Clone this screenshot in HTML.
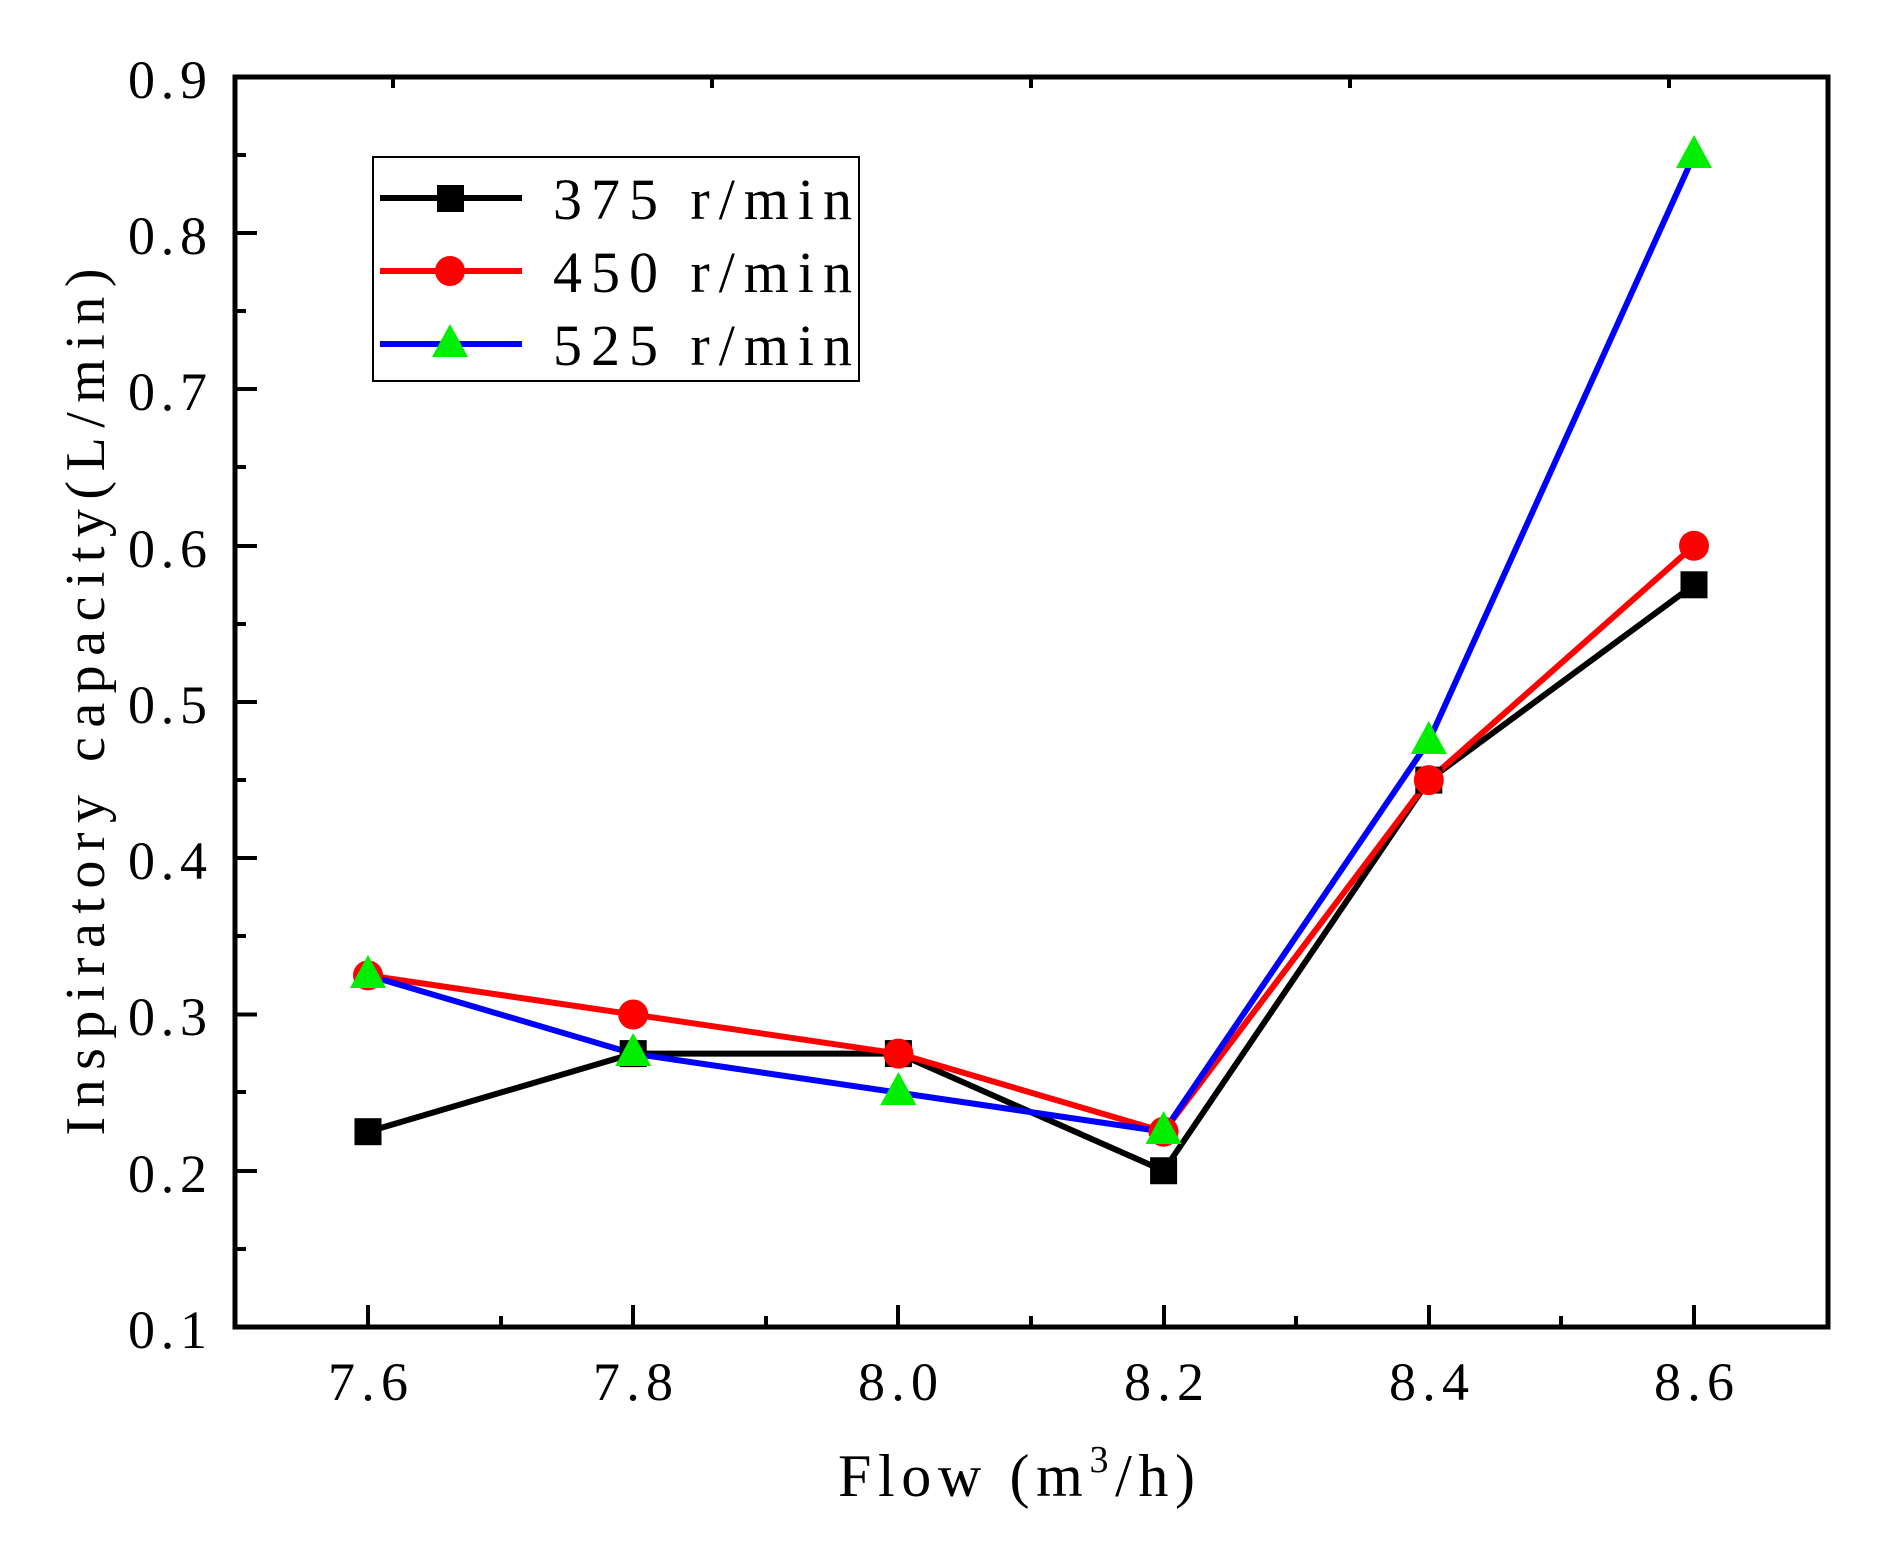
<!DOCTYPE html>
<html><head><meta charset="utf-8"><style>html,body{margin:0;padding:0;background:#fff}</style></head><body>
<svg width="1901" height="1542" viewBox="0 0 1901 1542" xmlns="http://www.w3.org/2000/svg" font-family="Liberation Serif, serif">
<rect width="1901" height="1542" fill="#fff"/>
<g stroke="#000" stroke-width="4">
<path d="M235 1171h22M235 1014.5h22M235 858h22M235 702h22M235 546h22M235 389h22M235 233h22M235 1249h11M235 1092h11M235 936h11M235 780h11M235 624h11M235 467h11M235 311h11M235 155h11"/>
<path d="M368 1327v-22M633 1327v-22M898 1327v-22M1164 1327v-22M1429 1327v-22M1694 1327v-22M501 1327v-11M766 1327v-11M1031 1327v-11M1296 1327v-11M1561 1327v-11"/>
<path d="M393 77v11M712 77v11M1031 77v11M1350 77v11M1669 77v11"/>
</g>
<rect x="235" y="77" width="1593" height="1250" fill="none" stroke="#000" stroke-width="5"/>
<g fill="none" stroke-width="6" stroke-linejoin="round">
<polyline stroke="#000" points="368,1131.7 633.2,1053.6 898.4,1053.6 1163.6,1170.75 1428.8,780.1 1694,584.8"/>
<polyline stroke="#ff0000" points="368,975.4 633.2,1014.5 898.4,1053.6 1163.6,1131.7 1428.8,780.1 1694,545.75"/>
<polyline stroke="#0000ff" points="368,975.4 633.2,1053.6 898.4,1092.6 1163.6,1131.7 1428.8,741.1 1694,155.1"/>
</g>
<g fill="#000">
<rect x="354.5" y="1118.2" width="27" height="27"/><rect x="619.7" y="1040.1" width="27" height="27"/><rect x="884.9" y="1040.1" width="27" height="27"/><rect x="1150.1" y="1157.25" width="27" height="27"/><rect x="1415.3" y="766.6" width="27" height="27"/><rect x="1680.5" y="571.3" width="27" height="27"/>
</g>
<g fill="#ff0000">
<circle cx="368" cy="975.4" r="15"/><circle cx="633.2" cy="1014.5" r="15"/><circle cx="898.4" cy="1053.6" r="15"/><circle cx="1163.6" cy="1131.7" r="15"/><circle cx="1428.8" cy="780.1" r="15"/><circle cx="1694" cy="545.75" r="15"/>
</g>
<g fill="#00ee00">
<polygon points="368,955 350,988 386,988"/><polygon points="633.2,1033 615.2,1066 651.2,1066"/><polygon points="898.4,1072 880.4,1105 916.4,1105"/><polygon points="1163.6,1111 1145.6,1144 1181.6,1144"/><polygon points="1428.8,721 1410.8,754 1446.8,754"/><polygon points="1694,135 1676,168 1712,168"/>
</g>
<g font-size="54" text-anchor="end">
<text x="207" y="98" textLength="79" lengthAdjust="spacing">0.9</text>
<text x="207" y="254" textLength="79" lengthAdjust="spacing">0.8</text>
<text x="207" y="410" textLength="79" lengthAdjust="spacing">0.7</text>
<text x="207" y="567" textLength="79" lengthAdjust="spacing">0.6</text>
<text x="207" y="723" textLength="79" lengthAdjust="spacing">0.5</text>
<text x="207" y="879" textLength="79" lengthAdjust="spacing">0.4</text>
<text x="207" y="1035" textLength="79" lengthAdjust="spacing">0.3</text>
<text x="207" y="1192" textLength="79" lengthAdjust="spacing">0.2</text>
<text x="207" y="1348" textLength="79" lengthAdjust="spacing">0.1</text>
</g>
<g font-size="54" text-anchor="middle">
<text x="368" y="1400" textLength="80" lengthAdjust="spacing">7.6</text>
<text x="633" y="1400" textLength="80" lengthAdjust="spacing">7.8</text>
<text x="898" y="1400" textLength="80" lengthAdjust="spacing">8.0</text>
<text x="1164" y="1400" textLength="80" lengthAdjust="spacing">8.2</text>
<text x="1429" y="1400" textLength="80" lengthAdjust="spacing">8.4</text>
<text x="1694" y="1400" textLength="80" lengthAdjust="spacing">8.6</text>
</g>
<text x="838" y="1496" font-size="60" textLength="357" lengthAdjust="spacing">Flow (m<tspan font-size="38" dy="-24">3</tspan><tspan dy="24">/h)</tspan></text>
<text transform="translate(104,702) rotate(-90)" font-size="56" text-anchor="middle" textLength="867" lengthAdjust="spacing">Inspiratory capacity(L/min)</text>
<rect x="373" y="157" width="486" height="224" fill="#fff" stroke="#000" stroke-width="2"/>
<line x1="380" y1="198" x2="522" y2="198" stroke="#000" stroke-width="6"/>
<rect x="437" y="185" width="27" height="27" fill="#000"/>
<line x1="380" y1="271" x2="522" y2="271" stroke="#ff0000" stroke-width="6"/>
<circle cx="450" cy="271" r="15" fill="#ff0000"/>
<line x1="380" y1="344" x2="522" y2="344" stroke="#0000ff" stroke-width="6"/>
<polygon points="450,324 432,357 468,357" fill="#00ee00"/>
<g font-size="58">
<text x="553" y="219" textLength="299" lengthAdjust="spacing">375 r/min</text>
<text x="553" y="292" textLength="299" lengthAdjust="spacing">450 r/min</text>
<text x="553" y="365" textLength="299" lengthAdjust="spacing">525 r/min</text>
</g>
</svg>
</body></html>
